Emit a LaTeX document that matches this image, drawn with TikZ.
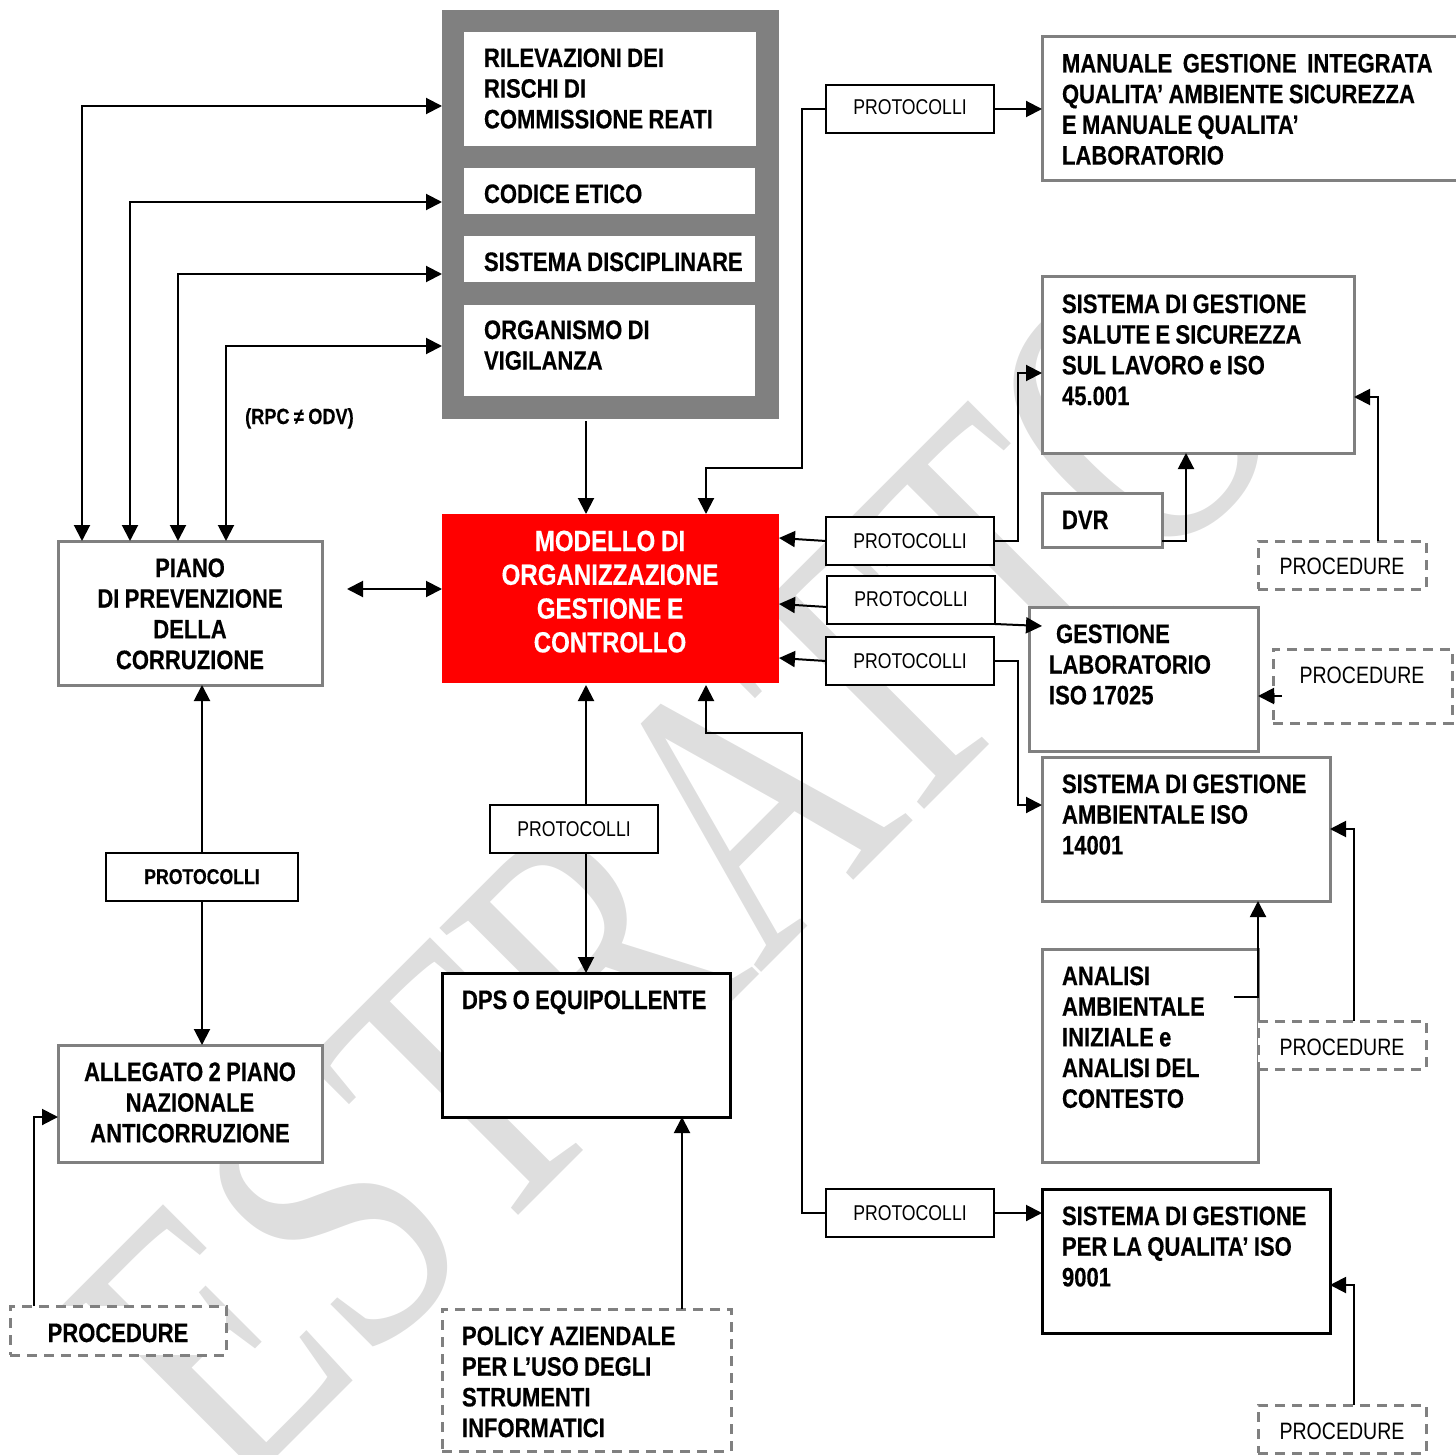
\documentclass[tikz,border=0pt]{standalone}
\usepackage{fontspec}
\usepackage{tikz}
\usetikzlibrary{arrows.meta}
\newfontfamily\lsans[FakeStretch=.825,BoldFeatures={FakeBold=0.35}]{Liberation Sans}
\newfontfamily\wmfont[FakeStretch=.77]{Liberation Serif}
\definecolor{bordergrey}{HTML}{808080}
\definecolor{wmgrey}{HTML}{DEDEDE}
\tikzset{
  frame/.style={rectangle,inner sep=0pt,outer sep=0pt},
  gbox/.style={frame,draw=bordergrey,line width=3pt,fill=white},
  kbox/.style={frame,draw=black,line width=2.2pt,fill=white},
  qbox/.style={frame,draw=black,line width=3pt,fill=white},
  dbox/.style={frame,draw=bordergrey,line width=3pt,dash pattern=on 10pt off 7pt,fill=white},
  wbox/.style={frame,fill=white},
  tight/.style={execute at begin node={\spaceskip=.2em\relax\xspaceskip=.2em\relax}},
  lab/.style={tight,inner sep=0pt,outer sep=0pt,text width=420pt,align=left,anchor=base west,font=\lsans\bfseries\fontsize{26.7}{30.7}\selectfont},
  clab/.style={tight,inner sep=0pt,outer sep=0pt,text width=340pt,align=center,anchor=base,font=\lsans\bfseries\fontsize{26.7}{30.7}\selectfont},
  redlab/.style={tight,inner sep=0pt,outer sep=0pt,text width=330pt,align=center,anchor=base,text=white,font=\lsans\bfseries\fontsize{29.2}{33.8}\selectfont},
  plab/.style={inner sep=0pt,outer sep=0pt,anchor=base,font=\lsans\fontsize{21.4}{26}\selectfont},
  prlab/.style={inner sep=0pt,outer sep=0pt,anchor=base,font=\lsans\fontsize{23.7}{28}\selectfont},
  line/.style={draw=black,line width=2pt},
  arr/.style={line,-{Triangle[length=16pt,width=16pt]}},
  darr/.style={line,{Triangle[length=16pt,width=16pt]}-{Triangle[length=16pt,width=16pt]}},
}
\newcommand{\bx}[6]{\node[#1,minimum width={(#5)-(#3)},minimum height={(#6)-(#4)}] (#2) at ({((#3)+(#5))/2},{((#4)+(#6))/2}) {};}
\begin{document}
\begin{tikzpicture}[x=1pt,y=-1pt]
\useasboundingbox (0,0) rectangle (1456,1455);
\begin{scope}
\clip (0,0) rectangle (1456,1455);
% watermark
\node[inner sep=0pt,anchor=base west,rotate=45,text=wmgrey,font=\wmfont\fontsize{395}{395}\selectfont] (wm) at (234,1500) {ESTRATTO};
% grey panel
\bx{frame,fill=bordergrey}{panel}{442}{10}{779}{419}
\bx{wbox}{rilev}{464}{32}{756}{146}
\bx{wbox}{codice}{464}{168}{755}{214}
\bx{wbox}{sistdisc}{464}{236}{755}{282}
\bx{wbox}{odv}{464}{305}{755}{396}
% boxes
\bx{gbox}{piano}{58}{541}{322}{685}
\bx{frame,fill=red}{modello}{442}{514}{779}{683}
\bx{kbox}{pa}{826}{85}{994}{133}
\bx{gbox}{manuale}{1042}{37}{1470}{181}
\bx{gbox}{ssl}{1042}{277}{1354}{453}
\bx{gbox}{dvr}{1042}{493}{1162}{547}
\bx{kbox}{pb}{826}{517}{994}{565}
\bx{kbox}{pc}{827}{576}{995}{624}
\bx{kbox}{pd}{826}{637}{994}{685}
\bx{dbox}{pra}{1258}{541}{1426}{589}
\bx{gbox}{lab}{1029}{607}{1258}{751}
\bx{dbox}{prb}{1273}{649}{1452}{723}
\bx{gbox}{amb}{1042}{757}{1330}{901}
\bx{gbox}{analisi}{1042}{949}{1258}{1162}
\bx{dbox}{prc}{1258}{1021}{1426}{1069}
\bx{kbox}{pe}{490}{805}{658}{853}
\bx{kbox}{pf}{106}{853}{298}{901}
\bx{qbox}{dps}{442}{973}{730}{1117}
\bx{gbox}{allegato}{58}{1045}{322}{1162}
\bx{kbox}{pg}{826}{1189}{994}{1237}
\bx{qbox}{qual}{1042}{1189}{1330}{1333}
\bx{dbox}{prd}{10}{1306}{226}{1355}
\bx{dbox}{policy}{442}{1309}{731}{1451}
\bx{dbox}{pre}{1258}{1405}{1426}{1453}
\end{scope}
% texts
\node[lab] (trilev) at (484,67) {RILEVAZIONI DEI\\RISCHI DI\\COMMISSIONE REATI};
\node[lab] (tcod) at (484,203) {CODICE ETICO};
\node[lab] (tsis) at (484,271) {SISTEMA DISCIPLINARE};
\node[lab] (todv) at (484,339) {ORGANISMO DI\\VIGILANZA};
\node[clab] (tpiano) at (190,577) {PIANO\\DI PREVENZIONE\\DELLA\\CORRUZIONE};
\node[redlab] (tmod) at (610,551) {MODELLO DI\\ORGANIZZAZIONE\\GESTIONE E\\CONTROLLO};
\node[tight,inner sep=0pt,anchor=base west,font=\lsans\bfseries\fontsize{22}{26}\selectfont] (trpc) at (245,424) {(RPC ≠ ODV)};
\node[lab] (tman) at (1062,72.5) {MANUALE\ \ GESTIONE\ \ INTEGRATA\\QUALITA’ AMBIENTE SICUREZZA\\E MANUALE QUALITA’\\LABORATORIO};
\node[lab] (tssl) at (1062,313) {SISTEMA DI GESTIONE\\SALUTE E SICUREZZA\\SUL LAVORO e ISO\\45.001};
\node[lab] (tdvr) at (1062,529) {DVR};
\node[lab] (tlab) at (1049,643) {\hspace*{7pt}GESTIONE\\LABORATORIO\\ISO 17025};
\node[lab] (tamb) at (1062,793) {SISTEMA DI GESTIONE\\AMBIENTALE ISO\\14001};
\node[lab] (tana) at (1062,985) {ANALISI\\AMBIENTALE\\INIZIALE e\\ANALISI DEL\\CONTESTO};
\node[lab] (tqual) at (1062,1225) {SISTEMA DI GESTIONE\\PER LA QUALITA’ ISO\\9001};
\node[lab] (tdps) at (462,1009) {DPS O EQUIPOLLENTE};
\node[clab] (tall) at (190,1081) {ALLEGATO 2 PIANO\\NAZIONALE\\ANTICORRUZIONE};
\node[lab] (tpol) at (462,1345) {POLICY AZIENDALE\\PER L’USO DEGLI\\STRUMENTI\\INFORMATICI};
\node[plab] (tpa) at (910,115) {PROTOCOLLI};
\node[plab] (tpb) at (910,548) {PROTOCOLLI};
\node[plab] (tpc) at (911,606) {PROTOCOLLI};
\node[plab] (tpd) at (910,668) {PROTOCOLLI};
\node[plab] (tpe) at (574,836) {PROTOCOLLI};
\node[plab,font=\lsans\bfseries\fontsize{21.4}{26}\selectfont] (tpf) at (202,884) {PROTOCOLLI};
\node[plab] (tpg) at (910,1220) {PROTOCOLLI};
\node[prlab] (tpra) at (1342,574) {PROCEDURE};
\node[prlab] (tprb) at (1362,683) {PROCEDURE};
\node[prlab] (tprc) at (1342,1055) {PROCEDURE};
\node[prlab] (tpre) at (1342,1439) {PROCEDURE};
\node[clab,text width=200pt] (tprd) at (118,1342) {PROCEDURE};
% connectors
\draw[darr] (piano.north -| 82,0) -- (82,106) -- (panel.west |- 0,106);
\draw[darr] (piano.north -| 130,0) -- (130,202) -- (panel.west |- 0,202);
\draw[darr] (piano.north -| 178,0) -- (178,274) -- (panel.west |- 0,274);
\draw[darr] (piano.north -| 226,0) -- (226,346) -- (panel.west |- 0,346);
\draw[arr] (586,421) -- (modello.north -| 586,0);
\draw[darr] (347,589) -- (modello.west |- 0,589);
\draw[arr] (pa.west) -- (802,109) -- (802,468) -- (706,468) -- (modello.north -| 706,0);
\draw[arr] (pa.east) -- (manuale.west |- pa.east);
\draw[arr] (pb.east) -- (1018,541) -- (1018,373) -- (ssl.west |- 0,373);
\draw[arr] (pb.west) -- (modello.east |- 0,538);
\draw[arr] (pc.west |- 0,607) -- (modello.east |- 0,604);
\draw[arr] (pc.south east) -- ([xshift=13pt]lab.west |- 0,626);
\draw[arr] (pd.west) -- (modello.east |- 0,658);
\draw[arr] (pd.east) -- (1018,661) -- (1018,805) -- (amb.west |- 0,805);
\draw[arr] (dvr.east |- 0,541) -- (1186,541) -- (ssl.south -| 1186,0);
\draw[arr] (pra.north -| 1378,0) -- (1378,397) -- (ssl.east |- 0,397);
\draw[arr] (1282,696) -- (lab.east |- 0,696);
\draw[arr] (1234,997) -- (1258,997) -- (amb.south -| 1258,0);
\draw[arr] (prc.north -| 1354,0) -- (1354,829) -- (amb.east |- 0,829);
\draw[arr] (pg.east) -- (qual.west |- pg.east);
\draw[arr] (pg.west) -- (802,1213) -- (802,733) -- (706,733) -- ([yshift=-2pt]modello.south -| 706,0);
\draw[arr] (pre.north -| 1354,0) -- (1354,1285) -- (qual.east |- 0,1285);
\draw[arr] (pe.south -| 586,0) -- (dps.north -| 586,0);
\draw[arr] (pe.north -| 586,0) -- ([yshift=-2pt]modello.south -| 586,0);
\draw[arr] (pf.north) -- (piano.south -| pf.north);
\draw[arr] (pf.south) -- (allegato.north -| pf.south);
\draw[arr] (prd.north -| 34,0) -- (34,1117) -- (allegato.west |- 0,1117);
\draw[arr] (policy.north -| 682,0) -- (dps.south -| 682,0);
\end{tikzpicture}
\end{document}
